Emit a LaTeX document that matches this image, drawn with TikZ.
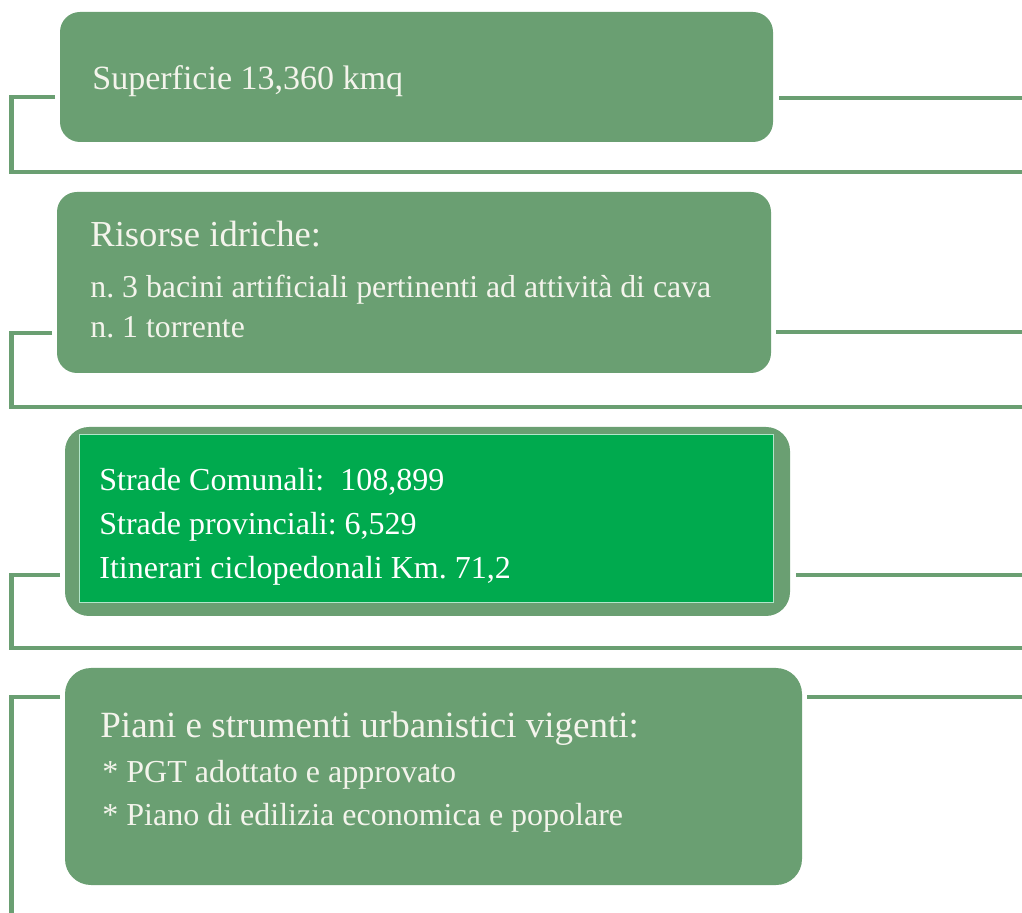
\documentclass[tikz,border=0pt]{standalone}
\usepackage{fontspec}
\setmainfont{Liberation Serif}
\usetikzlibrary{fit}
\frenchspacing

\definecolor{sage}{RGB}{106,159,114}
\definecolor{leaf}{RGB}{0,170,78}
\definecolor{cream}{RGB}{244,244,236}

\begin{document}
\begin{tikzpicture}[x=0.5pt, y=-0.5pt,
  panel/.style={fill=sage, rounded corners=10pt, inner sep=0pt},
  link/.style={draw=sage, line width=2.25pt},
  txt/.style={anchor=base west, inner sep=0pt, text=cream}]

  \useasboundingbox (0,0) rectangle (1022,913);

  % Superficie box
  \node[panel, fit={(60,12) (773,142)}] (sup) {};
  \node[txt, font=\fontsize{17pt}{20pt}\selectfont] (supA) at (92,90) {Superficie 13,360 kmq};

  % Risorse idriche box
  \node[panel, fit={(57,192) (771,373)}] (ris) {};
  \node[txt, font=\fontsize{18.3pt}{22pt}\selectfont] (risA) at (90,247) {Risorse idriche:};
  \node[txt, font=\fontsize{15.9pt}{19pt}\selectfont] (risB) at (90,298) {n. 3 bacini artificiali pertinenti ad attività di cava};
  \node[txt, font=\fontsize{15.9pt}{19pt}\selectfont] (risC) at (90,338) {n. 1 torrente};

  % Strade box
  \node[panel, rounded corners=12pt, fit={(65,427) (790,616)}] (str) {};
  \node[fill=leaf, draw=white!70!leaf, line width=0.5pt, inner sep=0pt,
        fit={(79,435) (773,603)}] (strIn) {};
  \node[txt, text=white, font=\fontsize{16pt}{19pt}\selectfont] (strA) at (99,491) {Strade Comunali:\ \ 108,899};
  \node[txt, text=white, font=\fontsize{16pt}{19pt}\selectfont] (strB) at (99,535) {Strade provinciali: 6,529};
  \node[txt, text=white, font=\fontsize{16pt}{19pt}\selectfont] (strC) at (99,579) {Itinerari ciclopedonali Km. 71,2};

  % Piani box
  \node[panel, rounded corners=13pt, fit={(65,668) (802,885)}] (pia) {};
  \node[txt, font=\fontsize{18.5pt}{22pt}\selectfont] (piaA) at (100,737) {Piani e strumenti urbanistici vigenti:};
  \node[txt, font=\fontsize{16pt}{19pt}\selectfont] (piaB) at (102,782) {* PGT adottato e approvato};
  \node[txt, font=\fontsize{16pt}{19pt}\selectfont] (piaC) at (102,825) {* Piano di edilizia economica e popolare};

  % Line ends
  \coordinate (supL) at (55,97);
  \coordinate (supR) at (779,98);
  \coordinate (risL) at (52,333);
  \coordinate (risR) at (776,332);
  \coordinate (strL) at (60,575);
  \coordinate (strR) at (796,575);
  \coordinate (piaL) at (60,697);
  \coordinate (piaR) at (807,697);

  % Right lines
  \draw[link] (supR) -- (1022,98);
  \draw[link] (risR) -- (1022,332);
  \draw[link] (strR) -- (1022,575);
  \draw[link] (piaR) -- (1022,697);

  % Left brackets
  \draw[link] (supL) -| (11.5,172) -- (1022,172);
  \draw[link] (risL) -| (11.5,407) -- (1022,407);
  \draw[link] (strL) -| (11.5,648) -- (1022,648);
  \draw[link] (piaL) -| (11.5,913);

\end{tikzpicture}
\end{document}
